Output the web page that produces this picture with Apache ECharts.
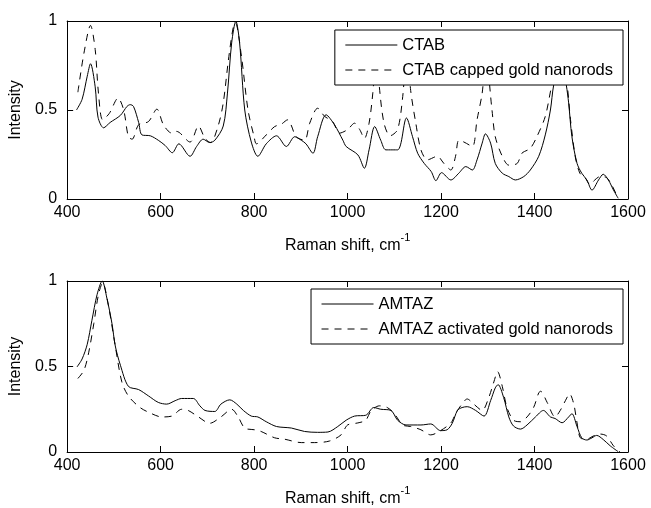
<!DOCTYPE html>
<html>
<head>
<meta charset="utf-8">
<script src="https://cdn.jsdelivr.net/npm/echarts@6/dist/echarts.min.js"></script>
<style>
html,body{margin:0;padding:0;background:#fff;}
#chart{width:651px;height:508px;}
</style>
</head>
<body>
<div id="chart"></div>
<script>
// ---- data ----
var xTicks = [400, 600, 800, 1000, 1200, 1400, 1600];
var yTicks = [0, 0.5, 1];

var ctabX = [420,432,443,450,460,466,478,492,514,528,535,542,553,560,578,595,610,625,639,663,677,691,705,716,734,743,752,761,769,780,794,808,826,848,869,887,901,911,926,936,954,972,990,997,1022,1036,1046,1058,1071,1082,1107,1126,1139,1150,1164,1179,1189,1201,1221,1238,1253,1267,1277,1288,1295,1306,1316,1331,1345,1359,1377,1391,1409,1423,1434,1441,1452,1462,1468,1473,1480,1491,1501,1512,1523,1537,1547,1558,1569,1579];
var ctabY = [0.50,0.56,0.69,0.76,0.63,0.46,0.40,0.43,0.47,0.52,0.53,0.52,0.43,0.36,0.355,0.33,0.30,0.26,0.31,0.24,0.295,0.336,0.317,0.33,0.41,0.595,0.877,1.0,0.877,0.50,0.32,0.24,0.31,0.355,0.295,0.35,0.33,0.31,0.257,0.35,0.473,0.417,0.33,0.295,0.248,0.173,0.276,0.407,0.33,0.276,0.276,0.455,0.35,0.257,0.20,0.154,0.103,0.148,0.107,0.145,0.182,0.163,0.22,0.314,0.366,0.314,0.20,0.145,0.126,0.107,0.126,0.163,0.24,0.36,0.50,0.64,0.74,0.72,0.64,0.54,0.35,0.20,0.145,0.107,0.05,0.107,0.139,0.107,0.05,0.004];

var ctabGoldX = [423,436,450,460,467,476,490,509,521,531,539,553,574,592,606,624,634,663,681,695,707,723,734,745,755,760,773,787,800,805,826,844,858,872,879,890,908,919,936,951,968,983,1000,1015,1026,1036,1046,1054,1062,1068,1078,1091,1107,1118,1127,1135,1146,1157,1171,1192,1206,1221,1231,1238,1249,1267,1277,1288,1296,1309,1316,1331,1345,1363,1373,1391,1405,1423,1437,1450,1466,1477,1487,1497,1508,1519,1529,1540,1554,1565,1576];
var ctabGoldY = [0.60,0.82,0.975,0.84,0.595,0.445,0.48,0.567,0.50,0.35,0.336,0.417,0.435,0.505,0.417,0.37,0.38,0.32,0.41,0.34,0.317,0.41,0.54,0.78,0.96,0.99,0.80,0.50,0.35,0.31,0.36,0.407,0.42,0.445,0.417,0.35,0.33,0.426,0.51,0.464,0.435,0.37,0.39,0.426,0.39,0.34,0.426,0.595,0.85,0.63,0.426,0.355,0.39,0.576,0.85,0.61,0.426,0.276,0.22,0.24,0.20,0.163,0.24,0.33,0.32,0.295,0.445,0.595,0.80,0.50,0.35,0.24,0.19,0.20,0.257,0.285,0.35,0.464,0.64,0.76,0.70,0.445,0.24,0.145,0.12,0.08,0.107,0.126,0.12,0.08,0.02];

var amtazX = [421,432,443,453,464,475,485,496,503,514,531,553,574,595,613,631,645,670,684,695,716,729,748,763,777,794,808,826,848,880,908,936,958,979,997,1015,1039,1056,1071,1093,1107,1125,1142,1157,1178,1199,1213,1224,1235,1245,1256,1274,1292,1306,1316,1322,1334,1345,1355,1370,1384,1402,1419,1434,1444,1459,1473,1480,1491,1501,1512,1523,1533,1547,1562,1579];
var amtazY = [0.497,0.544,0.63,0.77,0.92,1.0,0.90,0.75,0.62,0.507,0.384,0.365,0.328,0.29,0.28,0.30,0.313,0.313,0.27,0.243,0.237,0.28,0.305,0.28,0.243,0.21,0.205,0.177,0.149,0.14,0.12,0.115,0.117,0.149,0.186,0.21,0.215,0.26,0.25,0.243,0.186,0.158,0.158,0.158,0.164,0.125,0.13,0.168,0.243,0.26,0.265,0.243,0.21,0.30,0.375,0.394,0.318,0.205,0.152,0.134,0.158,0.205,0.243,0.205,0.196,0.171,0.205,0.224,0.149,0.083,0.07,0.083,0.097,0.073,0.036,0.002];

var amtazGoldX = [423,436,446,457,467,476,489,503,517,531,556,581,602,624,645,659,681,705,729,752,766,780,801,815,844,865,901,929,961,986,1000,1022,1039,1050,1068,1085,1100,1118,1135,1157,1178,1196,1221,1231,1242,1256,1270,1288,1302,1313,1321,1331,1341,1355,1370,1384,1398,1409,1413,1427,1444,1455,1466,1475,1484,1491,1498,1512,1526,1540,1554,1569,1583];
var amtazGoldY = [0.43,0.478,0.58,0.75,0.92,0.99,0.846,0.62,0.41,0.328,0.26,0.224,0.205,0.21,0.25,0.243,0.205,0.168,0.205,0.25,0.205,0.14,0.13,0.12,0.083,0.075,0.055,0.055,0.064,0.10,0.158,0.17,0.186,0.24,0.27,0.26,0.224,0.158,0.149,0.13,0.10,0.12,0.17,0.224,0.27,0.31,0.28,0.243,0.318,0.41,0.47,0.384,0.26,0.186,0.177,0.205,0.26,0.346,0.355,0.29,0.205,0.243,0.30,0.34,0.28,0.17,0.083,0.075,0.094,0.105,0.094,0.036,0.0];

var seriesNames = ['CTAB', 'CTAB capped gold nanorods', 'AMTAZ', 'AMTAZ activated gold nanorods'];
var xTitle = 'Raman shift, cm';
var xTitleSup = '-1';
var yTitle = 'Intensity';

// ---- build ----
function pairs(xs, ys) { return xs.map(function (x, i) { return [x, ys[i]]; }); }
var FONT = '"Liberation Sans", Arial, Helvetica, sans-serif';
var BLACK = '#000';

function xAxisDef(grid, pos, main) {
  return {
    type: 'value', gridIndex: grid, position: pos,
    min: xTicks[0], max: xTicks[xTicks.length - 1], interval: xTicks[1] - xTicks[0],
    axisLine: { show: true, onZero: false, lineStyle: { color: BLACK, width: 1 } },
    axisTick: { show: true, inside: true, length: 6, lineStyle: { color: BLACK } },
    axisLabel: { show: main, color: BLACK, fontSize: 16, fontFamily: FONT, margin: 6,
      formatter: function (v) { return String(v); } },
    splitLine: { show: false },
    name: main ? '{a|' + xTitle + '}{b|' + xTitleSup + '}' : '',
    nameLocation: 'middle', nameGap: 33,
    nameTextStyle: {
      rich: {
        a: { fontSize: 16, fontFamily: FONT, color: BLACK, lineHeight: 22, verticalAlign: 'bottom' },
        b: { fontSize: 11, fontFamily: FONT, color: BLACK, lineHeight: 12, verticalAlign: 'top' }
      }
    }
  };
}
function yAxisDef(grid, pos, main) {
  return {
    type: 'value', gridIndex: grid, position: pos,
    min: yTicks[0], max: yTicks[yTicks.length - 1], interval: yTicks[1] - yTicks[0],
    axisLine: { show: true, onZero: false, lineStyle: { color: BLACK, width: 1 } },
    axisTick: { show: true, inside: true, length: 6, lineStyle: { color: BLACK } },
    axisLabel: { show: main, color: BLACK, fontSize: 16, fontFamily: FONT, margin: 10,
      formatter: function (v) { return String(v); } },
    splitLine: { show: false },
    name: main ? yTitle : '', nameLocation: 'middle', nameGap: 38,
    nameTextStyle: { fontSize: 16, fontFamily: FONT, color: BLACK }
  };
}
function lineSeries(name, xi, yi, data, dashed) {
  return {
    name: name, type: 'line', xAxisIndex: xi, yAxisIndex: yi, data: data,
    symbol: 'none', showSymbol: false, smooth: 0.3, animation: false,
    lineStyle: { color: BLACK, width: 1, type: dashed ? [7, 6] : 'solid' },
    itemStyle: { color: BLACK }
  };
}
function legendDef(names, top) {
  return {
    data: names, orient: 'vertical', right: 28, top: top,
    padding: [6, 10, 6, 10], itemGap: 7, itemWidth: 52, itemHeight: 14,
    borderColor: BLACK, borderWidth: 1, backgroundColor: '#fff', borderRadius: 0,
    itemStyle: { color: 'rgba(0,0,0,0)', borderWidth: 0, opacity: 0 },
    lineStyle: { width: 1, color: BLACK },
    textStyle: { fontSize: 16.5, fontFamily: FONT, color: BLACK, lineHeight: 18 },
    inactiveColor: '#000'
  };
}

var chart = echarts.init(document.getElementById('chart'), null, { renderer: 'canvas' });
chart.setOption({
  animation: false,
  backgroundColor: '#fff',
  grid: [
    { left: 65, right: 23, top: 21, height: 178 },
    { left: 65, right: 23, top: 281, height: 177 }
  ],
  xAxis: [xAxisDef(0, 'bottom', true), xAxisDef(1, 'bottom', true), xAxisDef(0, 'top', false), xAxisDef(1, 'top', false)],
  yAxis: [yAxisDef(0, 'left', true), yAxisDef(1, 'left', true), yAxisDef(0, 'right', false), yAxisDef(1, 'right', false)],
  legend: [legendDef([seriesNames[0], seriesNames[1]], 30), legendDef([seriesNames[2], seriesNames[3]], 289)],
  series: [
    lineSeries(seriesNames[0], 0, 0, pairs(ctabX, ctabY), false),
    lineSeries(seriesNames[1], 0, 0, pairs(ctabGoldX, ctabGoldY), true),
    lineSeries(seriesNames[2], 1, 1, pairs(amtazX, amtazY), false),
    lineSeries(seriesNames[3], 1, 1, pairs(amtazGoldX, amtazGoldY), true)
  ]
});
</script>
</body>
</html>
